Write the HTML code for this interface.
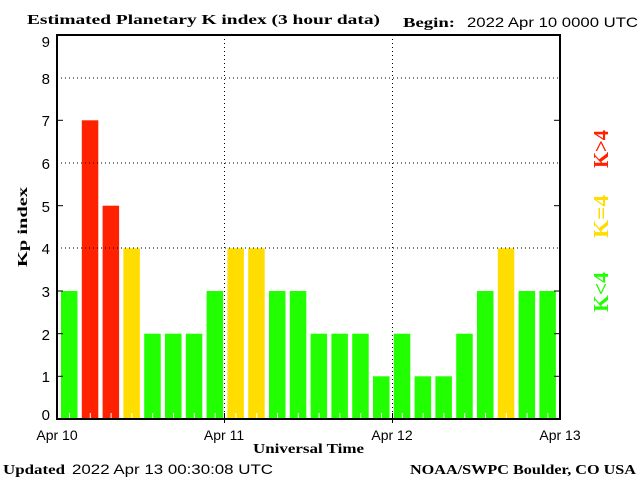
<!DOCTYPE html>
<html><head><style>body{margin:0;background:#fff}svg{display:block}</style></head><body>
<svg width="640" height="480" xmlns="http://www.w3.org/2000/svg">
<rect width="640" height="480" fill="#fff"/>
<g>
<rect x="61" y="291" width="16.5" height="128" fill="#22ff00"/>
<rect x="81.8" y="120.3" width="16.5" height="298.7" fill="#ff2200"/>
<rect x="102.6" y="205.7" width="16.5" height="213.3" fill="#ff2200"/>
<rect x="123.4" y="248.3" width="16.5" height="170.7" fill="#ffdd00"/>
<rect x="144.2" y="333.7" width="16.5" height="85.3" fill="#22ff00"/>
<rect x="165" y="333.7" width="16.5" height="85.3" fill="#22ff00"/>
<rect x="185.8" y="333.7" width="16.5" height="85.3" fill="#22ff00"/>
<rect x="206.6" y="291" width="16.5" height="128" fill="#22ff00"/>
<rect x="227.4" y="248.3" width="16.5" height="170.7" fill="#ffdd00"/>
<rect x="248.2" y="248.3" width="16.5" height="170.7" fill="#ffdd00"/>
<rect x="269" y="291" width="16.5" height="128" fill="#22ff00"/>
<rect x="289.8" y="291" width="16.5" height="128" fill="#22ff00"/>
<rect x="310.6" y="333.7" width="16.5" height="85.3" fill="#22ff00"/>
<rect x="331.4" y="333.7" width="16.5" height="85.3" fill="#22ff00"/>
<rect x="352.2" y="333.7" width="16.5" height="85.3" fill="#22ff00"/>
<rect x="373" y="376.3" width="16.5" height="42.7" fill="#22ff00"/>
<rect x="393.8" y="333.7" width="16.5" height="85.3" fill="#22ff00"/>
<rect x="414.6" y="376.3" width="16.5" height="42.7" fill="#22ff00"/>
<rect x="435.4" y="376.3" width="16.5" height="42.7" fill="#22ff00"/>
<rect x="456.2" y="333.7" width="16.5" height="85.3" fill="#22ff00"/>
<rect x="477" y="291" width="16.5" height="128" fill="#22ff00"/>
<rect x="497.8" y="248.3" width="16.5" height="170.7" fill="#ffdd00"/>
<rect x="518.6" y="291" width="16.5" height="128" fill="#22ff00"/>
<rect x="539.4" y="291" width="16.5" height="128" fill="#22ff00"/>
</g>
<g stroke="#fff" stroke-width="1">
<path d="M69.5 413V419M90.3 413V419M111.1 413V419M131.9 413V419M152.7 413V419M173.5 413V419M194.3 413V419M215.1 413V419M235.9 413V419M256.7 413V419M277.5 413V419M298.3 413V419M319.1 413V419M339.9 413V419M360.7 413V419M381.5 413V419M402.3 413V419M423.1 413V419M443.9 413V419M464.7 413V419M485.5 413V419M506.3 413V419M527.1 413V419M547.9 413V419"/>
</g>
<g stroke="#000" stroke-width="1" stroke-dasharray="1,3">
<line x1="57" y1="78" x2="560" y2="78"/><line x1="57" y1="163" x2="560" y2="163"/><line x1="57" y1="248" x2="560" y2="248"/>
<line x1="224.5" y1="35" x2="224.5" y2="419"/><line x1="392.5" y1="35" x2="392.5" y2="419"/>
</g>
<rect x="57" y="35" width="503" height="384" fill="none" stroke="#000" stroke-width="2"/>
<g stroke="#000" stroke-width="1">
<line x1="57" y1="376.3" x2="63" y2="376.3"/><line x1="554" y1="376.3" x2="560" y2="376.3"/>
<line x1="57" y1="333.7" x2="63" y2="333.7"/><line x1="554" y1="333.7" x2="560" y2="333.7"/>
<line x1="57" y1="291" x2="63" y2="291"/><line x1="554" y1="291" x2="560" y2="291"/>
<line x1="57" y1="205.7" x2="63" y2="205.7"/><line x1="554" y1="205.7" x2="560" y2="205.7"/>
<line x1="57" y1="120.3" x2="63" y2="120.3"/><line x1="554" y1="120.3" x2="560" y2="120.3"/>
<line x1="224.5" y1="413" x2="224.5" y2="423"/><line x1="392.5" y1="413" x2="392.5" y2="423"/>
</g>
<g font-family="Liberation Sans, sans-serif" font-size="15" fill="#000" text-anchor="end">
<text x="50" y="47">9</text><text x="50" y="84">8</text><text x="50" y="126">7</text><text x="50" y="169">6</text><text x="50" y="212">5</text><text x="50" y="254">4</text><text x="50" y="297">3</text><text x="50" y="340">2</text><text x="50" y="382">1</text><text x="50" y="420">0</text>
</g>
<g font-family="Liberation Sans, sans-serif" font-size="14" fill="#000" text-anchor="middle">
<text x="57" y="440">Apr 10</text><text x="224" y="440">Apr 11</text><text x="392" y="440">Apr 12</text><text x="560" y="440">Apr 13</text>
</g>
<g font-family="Liberation Serif, serif" font-weight="bold" font-size="14" fill="#000">
<text x="27" y="24" textLength="353" lengthAdjust="spacingAndGlyphs">Estimated Planetary K index (3 hour data)</text>
<text x="403" y="27" textLength="52" lengthAdjust="spacingAndGlyphs">Begin:</text>
<text x="253" y="453" textLength="111" lengthAdjust="spacingAndGlyphs">Universal Time</text>
<text x="3" y="474" textLength="62" lengthAdjust="spacingAndGlyphs">Updated</text>
<text x="410" y="474" textLength="226" lengthAdjust="spacingAndGlyphs">NOAA/SWPC Boulder, CO USA</text>
<text transform="translate(27,267) rotate(-90)" textLength="80" lengthAdjust="spacingAndGlyphs">Kp index</text>
</g>
<g font-family="Liberation Sans, sans-serif" font-size="14" fill="#000">
<text x="467" y="27" textLength="171" lengthAdjust="spacingAndGlyphs">2022 Apr 10 0000 UTC</text>
<text x="72" y="474" textLength="201" lengthAdjust="spacingAndGlyphs">2022 Apr 13 00:30:08 UTC</text>
</g>
<g font-family="Liberation Serif, serif" font-size="21" font-weight="bold">
<text transform="translate(608,168) rotate(-90)" textLength="38" lengthAdjust="spacingAndGlyphs" fill="#ff2200">K&gt;4</text>
<text transform="translate(608,238) rotate(-90)" textLength="43" lengthAdjust="spacingAndGlyphs" fill="#ffdd00">K=4</text>
<text transform="translate(608,312) rotate(-90)" textLength="40" lengthAdjust="spacingAndGlyphs" fill="#22ff00">K&lt;4</text>
</g>
</svg>
</body></html>
